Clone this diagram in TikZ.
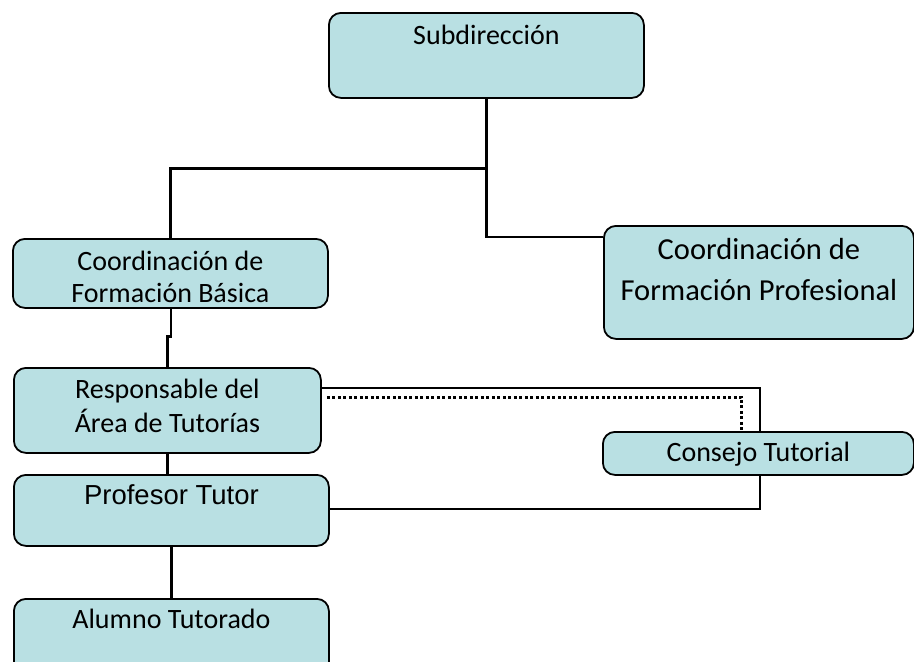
\documentclass[tikz,border=0pt]{standalone}
\usepackage{fontspec}
\setmainfont{Carlito}
\newfontfamily\arialfont{Liberation Sans}
\definecolor{boxblue}{RGB}{185,224,227}
\newcommand{\twolines}[2]{\begin{tabular}[t]{@{}c@{}}#1\\#2\end{tabular}}

\begin{document}
\begin{tikzpicture}[x=1pt,y=-1pt,
	box/.style={draw=black,line width=1.8pt,fill=boxblue,rounded corners=12pt,inner sep=0pt,anchor=north west,font=\fontsize{28pt}{32pt}\selectfont},
	link/.style={draw=black,line width=2.7pt},
	dots/.style={draw=black,line width=3pt,dash pattern=on 3pt off 2.5pt}]
			\useasboundingbox (0,0) rectangle (914,662);
			\node[box,minimum width=315pt,text height=32pt,text depth=53pt] (sub) at (328,12) {Subdirección};
			\node[box,minimum width=315pt,text height=32pt,text depth=37pt] (basica) at (12,238) {\twolines{Coordinación de}{Formación Básica}};
			\node[box,minimum width=310pt,text height=34pt,text depth=79pt,font=\fontsize{30.5pt}{41pt}\selectfont] (prof) at (603,225) {\twolines{Coordinación de}{Formación Profesional}};
			\node[box,minimum width=307pt,text height=31pt,text depth=54pt,font=\fontsize{28pt}{33pt}\selectfont] (resp) at (13,367) {\twolines{Responsable del}{Área de Tutorías}};
			\node[box,minimum width=311pt,text height=30pt,text depth=13pt] (consejo) at (602,431) {Consejo Tutorial};
			\node[box,minimum width=315pt,text height=30pt,text depth=41pt,font=\arialfont\fontsize{27.5pt}{32pt}\selectfont] (tutor) at (13,474) {Profesor Tutor};
			\node[box,minimum width=315pt,text height=30pt,text depth=60pt] (alumno) at (13,598) {Alumno Tutorado};

			\draw[link] (sub.south) |- ([yshift=-12pt]prof.north west);
			\draw[link] ([yshift=-70pt]sub.south) -| (basica.north);
			\draw[link] ([xshift=.5pt]basica.south) -- ++(0,28) -| (resp.north);
			\draw[link] (resp.south) -- (resp.south |- tutor.north);
			\draw[link] (tutor.south) -- (alumno.north);
			\draw[link] ([yshift=-21pt]resp.north east) -| ([xshift=1.5pt]consejo.north);
			\draw[dots] ([xshift=5pt,yshift=-30pt]resp.north east) -| ([xshift=-16.5pt]consejo.north);
			\draw[link] ([xshift=1.5pt]consejo.south) |- ([yshift=-35pt]tutor.north east);
\end{tikzpicture}
\end{document}
